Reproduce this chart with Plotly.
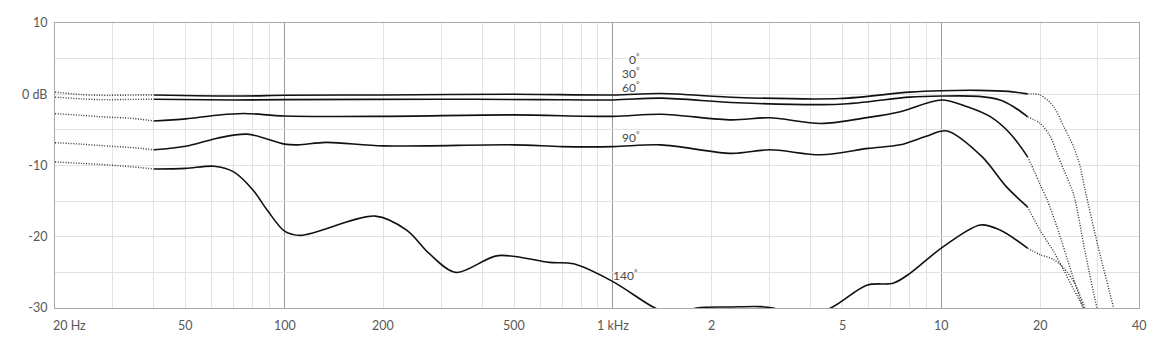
import numpy as np
import plotly.graph_objects as go

# ---------------- data ----------------
# solid (measured) parts, frequency in Hz, level in dB
f_0 = [40, 75, 100, 200, 500, 1000, 1400, 2400, 4900, 8000, 10000, 13000, 16000, 18300]
v_0 = [-0.1, -0.25, -0.15, -0.1, 0.0, -0.1, 0.1, -0.45, -0.6, 0.3, 0.5, 0.55, 0.4, 0.05]

f_30 = [40, 70, 100, 300, 600, 1000, 1400, 2400, 4900, 8000, 10000, 13000, 15100, 16600, 18300]
v_30 = [-0.7, -0.8, -0.75, -0.7, -0.75, -0.8, -0.55, -1.2, -1.4, -0.4, -0.25, -0.3, -0.8, -1.75, -3.15]

f_60 = [40, 50, 62, 75, 100, 200, 500, 1000, 1400, 2300, 3000, 4300, 6000, 7500, 10000, 12000, 14100, 16200, 18300]
v_60 = [-3.75, -3.45, -2.95, -2.7, -3.05, -3.1, -2.9, -3.1, -2.8, -3.6, -3.3, -4.1, -3.25, -2.45, -0.8, -1.75, -3.15, -5.5, -8.75]

f_90 = [40, 50, 62, 77, 100, 110, 134, 200, 500, 700, 1000, 1400, 2300, 3000, 4300, 6000, 7500, 9000, 10400, 13300, 15800, 18300]
v_90 = [-7.8, -7.3, -6.2, -5.6, -7.0, -7.1, -6.75, -7.25, -7.1, -7.35, -7.35, -7.1, -8.3, -7.8, -8.5, -7.6, -7.1, -5.9, -5.15, -8.75, -13.0, -15.8]

f_140 = [40, 50, 61, 70, 80, 89, 100, 112, 189, 236, 275, 332, 447, 640, 760, 1000, 1343, 1550,
         1800, 2300, 2800, 3070, 3700, 4600, 5930, 7160, 8050, 10000, 13150, 15100, 18300]
v_140 = [-10.5, -10.4, -10.1, -10.9, -13.4, -16.4, -19.2, -19.8, -17.1, -19.1, -22.3, -25.0, -22.65, -23.6, -23.8, -26.3, -30.0, -31.0,
         -30.0, -29.85, -29.8, -30.0, -31.0, -30.0, -26.8, -26.5, -25.1, -21.6, -18.35, -19.05, -21.6]

# dotted (extrapolated) parts, low end
lo_f = [20, 24, 27.4, 34.6, 40]
lo_0 = [0.3, -0.05, -0.15, -0.12, -0.1]
lo_30 = [-0.4, -0.65, -0.75, -0.72, -0.7]
lo_60 = [-2.72, -2.95, -3.15, -3.4, -3.75]
lo_90 = [-6.8, -7.0, -7.2, -7.5, -7.8]
lo_140 = [-9.5, -9.7, -9.85, -10.2, -10.5]

# dotted (extrapolated) parts, high end
hi_f_0 = [18300, 20000, 22000, 23600, 25300, 26500, 27400, 30000, 33500, 35500]
hi_v_0 = [0.05, -0.1, -1.75, -4.55, -7.4, -10.2, -13.4, -21.3, -30.0, -34.0]
hi_f_30 = [18300, 20000, 21500, 22500, 23600, 25300, 27400, 29800, 31500]
hi_v_30 = [-3.15, -4.1, -5.95, -8.3, -10.6, -14.1, -22.1, -30.0, -34.0]
hi_f_60 = [18300, 19200, 20000, 21000, 22500, 25000, 27000, 28500]
hi_v_60 = [-8.75, -10.8, -12.7, -14.8, -18.6, -25.2, -30.0, -34.0]
hi_f_90 = [18300, 20000, 22000, 23600, 25300, 27100, 28500]
hi_v_90 = [-15.8, -19.1, -22.1, -24.7, -27.4, -30.0, -33.0]
hi_f_140 = [18300, 20000, 22000, 23600, 25300, 27400, 28800]
hi_v_140 = [-21.6, -22.5, -23.2, -24.4, -26.3, -30.0, -33.0]

# curve labels
label_text = ["0<sup>°</sup>", "30<sup>°</sup>", "60<sup>°</sup>", "90<sup>°</sup>", "140<sup>°</sup>"]
label_freq = [1217, 1217, 1217, 1217, 1200]
label_db = [4.95, 2.95, 1.0, -5.95, -25.35]

# axes
x_tick_vals = [20, 50, 100, 200, 500, 1000, 2000, 5000, 10000, 20000, 40000]
x_tick_text = ["20 Hz", "50", "100", "200", "500", "1 kHz", "2", "5", "10", "20", "40"]
x_major_grid = [100, 1000, 10000]
x_minor_grid = [30, 40, 50, 60, 70, 80, 90, 200, 300, 400, 500, 600, 700, 800, 900,
                2000, 3000, 4000, 5000, 6000, 7000, 8000, 9000, 20000, 30000]
y_tick_vals = [-30, -25, -20, -15, -10, -5, 0, 5, 10]
y_tick_text = ["-30", "", "-20", "", "-10", "", "0 dB", "", "10"]

FONT = "Lato"
TXT = "#585858"

fig = go.Figure()

solid = [(f_0, v_0), (f_30, v_30), (f_60, v_60), (f_90, v_90), (f_140, v_140)]
lows = [lo_0, lo_30, lo_60, lo_90, lo_140]
highs = [(hi_f_0, hi_v_0), (hi_f_30, hi_v_30), (hi_f_60, hi_v_60), (hi_f_90, hi_v_90), (hi_f_140, hi_v_140)]

dot_style = dict(color="#333333", width=1.4, dash="1px,1.6px", shape="spline", smoothing=0.8)
for lo in lows:
    fig.add_trace(go.Scatter(x=lo_f, y=lo, mode="lines", line=dot_style, hoverinfo="skip", showlegend=False))
for hf, hv in highs:
    fig.add_trace(go.Scatter(x=hf, y=hv, mode="lines", line=dot_style, hoverinfo="skip", showlegend=False))
for f, v in solid:
    fig.add_trace(go.Scatter(x=f, y=v, mode="lines",
                             line=dict(color="#111111", width=1.6, shape="spline", smoothing=0.9),
                             showlegend=False))

for t, fx, dy in zip(label_text, label_freq, label_db):
    fig.add_annotation(x=np.log10(fx), y=dy, xref="x", yref="y", text=t, showarrow=False,
                       xanchor="right", yanchor="middle", borderpad=0,
                       font=dict(family=FONT, size=12, color="#4a4a4a"))

for v, t in zip(x_tick_vals, x_tick_text):
    fig.add_annotation(x=np.log10(v), y=0, xref="x", yref="paper", text=t, showarrow=False,
                       xanchor="left" if v == x_tick_vals[0] else "center", yanchor="middle",
                       xshift=-4 if v == x_tick_vals[0] else 0, yshift=-17,
                       font=dict(family=FONT, size=12.5, color=TXT))

fig.update_layout(
    width=1170, height=348,
    margin=dict(l=55, r=31, t=23, b=40),
    paper_bgcolor="white", plot_bgcolor="white",
    font=dict(family=FONT, size=12.5, color=TXT),
)
fig.update_xaxes(
    type="log", range=[np.log10(20), np.log10(40000)],
    tickvals=x_major_grid, showticklabels=False, ticks="",
    showgrid=True, gridcolor="#9a9a9a", gridwidth=1.2,
    minor=dict(tickvals=x_minor_grid, showgrid=True, gridcolor="#e2e2e2", gridwidth=1, ticks=""),
    showline=True, linecolor="#a8a8a8", linewidth=1.2, mirror=True, zeroline=False,
)
fig.update_yaxes(
    range=[-30, 10], tickvals=y_tick_vals, ticktext=y_tick_text,
    showgrid=True, gridcolor="#e2e2e2", gridwidth=1,
    ticks="outside", ticklen=4, tickcolor="rgba(0,0,0,0)",
    showline=True, linecolor="#a8a8a8", linewidth=1.2, mirror=True, zeroline=False,
    tickfont=dict(family=FONT, size=12.5, color=TXT),
)

fig.write_html("out.html")
